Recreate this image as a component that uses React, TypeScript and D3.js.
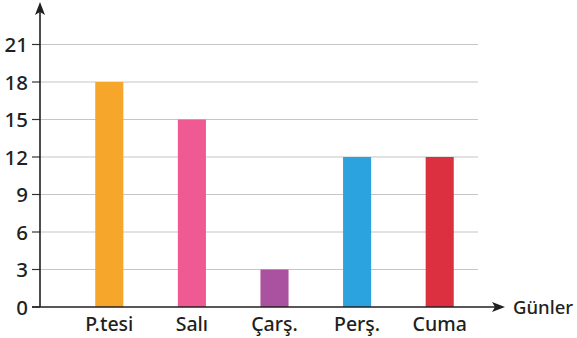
import React, { useRef, useEffect } from 'react';
import * as d3 from 'd3';

const days = ['P.tesi', 'Salı', 'Çarş.', 'Perş.', 'Cuma'];
const values = [18, 15, 3, 12, 12];
const colors = ['#f5a62b', '#ef5a93', '#aa519f', '#2aa3de', '#dc3041'];
const yTicks = [0, 3, 6, 9, 12, 15, 18, 21];
const xTitle = 'Günler';

const W = 577;
const H = 338;

const App = () => {
    const svgRef = useRef<SVGSVGElement>(null);

    useEffect(() => {
        const svg = d3.select(svgRef.current);
        svg.selectAll('*').remove();

        const font = '"Noto Sans", sans-serif';
        const axisX = 40;
        const baseY = 307;

        const x = d3.scaleBand<string>()
            .domain(days)
            .range([68, 481])
            .paddingInner(0.66)
            .paddingOuter(0.33);

        const y = d3.scaleLinear()
            .domain([0, 21])
            .range([baseY, 44.5]);

        // grid
        svg.append('g')
            .selectAll('line')
            .data(yTicks.filter(d => d > 0))
            .join('line')
            .attr('x1', axisX)
            .attr('x2', 478)
            .attr('y1', d => y(d))
            .attr('y2', d => y(d))
            .attr('stroke', '#c6c6c6')
            .attr('stroke-width', 1.2);

        // bars
        svg.append('g')
            .selectAll('rect')
            .data(values)
            .join('rect')
            .attr('x', (d, i) => x(days[i]) as number)
            .attr('width', x.bandwidth())
            .attr('y', d => y(d))
            .attr('height', d => baseY - y(d))
            .attr('fill', (d, i) => colors[i]);

        // y ticks
        const ty = svg.append('g');
        ty.selectAll('line')
            .data(yTicks)
            .join('line')
            .attr('x1', 32)
            .attr('x2', axisX)
            .attr('y1', d => y(d))
            .attr('y2', d => y(d))
            .attr('stroke', '#333')
            .attr('stroke-width', 1.2);
        ty.selectAll('text')
            .data(yTicks)
            .join('text')
            .attr('x', 28)
            .attr('y', d => y(d) + 7.5)
            .attr('text-anchor', 'end')
            .attr('font-family', font)
            .attr('font-size', 20.5)
            .attr('font-weight', 500)
            .attr('fill', '#231f20')
            .text(d => d);

        // axes
        svg.append('line')
            .attr('x1', axisX).attr('x2', axisX)
            .attr('y1', baseY).attr('y2', 8)
            .attr('stroke', '#231f20').attr('stroke-width', 1.6);
        svg.append('line')
            .attr('x1', axisX - 8).attr('x2', 498)
            .attr('y1', baseY).attr('y2', baseY)
            .attr('stroke', '#231f20').attr('stroke-width', 1.6);

        // arrow heads
        svg.append('path')
            .attr('d', `M${axisX},2 L${axisX + 5},15 L${axisX},12 L${axisX - 5},15 Z`)
            .attr('fill', '#231f20');
        svg.append('path')
            .attr('d', `M505,${baseY} L492,${baseY - 5} L495,${baseY} L492,${baseY + 5} Z`)
            .attr('fill', '#231f20');

        // category labels
        svg.append('g')
            .selectAll('text')
            .data(days)
            .join('text')
            .attr('x', d => (x(d) as number) + x.bandwidth() / 2)
            .attr('y', 331)
            .attr('text-anchor', 'middle')
            .attr('font-family', font)
            .attr('font-size', 19.5)
            .attr('font-weight', 500)
            .attr('fill', '#231f20')
            .text(d => d);

        svg.append('text')
            .attr('x', 513)
            .attr('y', baseY + 7)
            .attr('font-family', font)
            .attr('font-size', 18.5)
            .attr('font-weight', 500)
            .attr('fill', '#231f20')
            .text(xTitle);
    }, []);

    return (
        <svg ref={svgRef} width={W} height={H}
            style={{ position: 'absolute', left: 0, top: 0, background: '#fff' }} />
    );
};

export default App;
